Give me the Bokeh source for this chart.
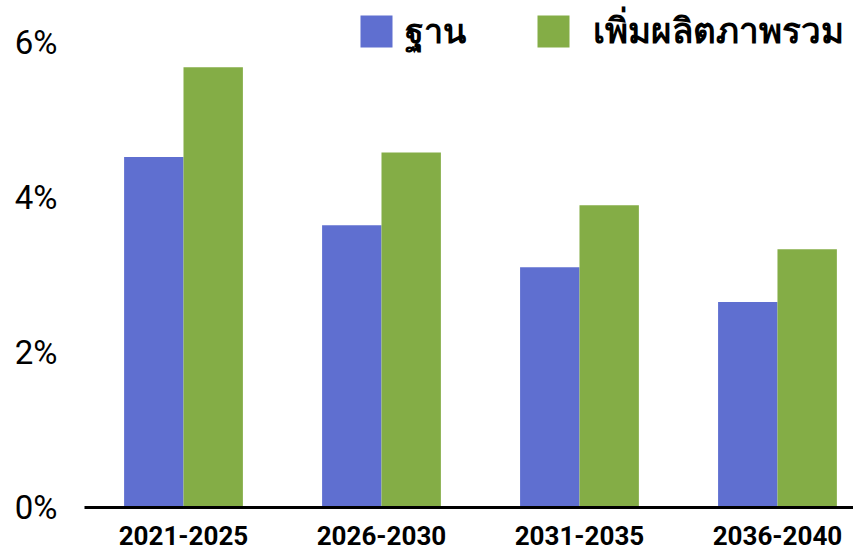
from bokeh.plotting import figure
from bokeh.models import ColumnDataSource, Range1d, FixedTicker, PrintfTickFormatter, Legend, LegendItem
from bokeh.transform import dodge
from bokeh.embed import file_html
from bokeh.resources import INLINE

categories = ["2021-2025", "2026-2030", "2031-2035", "2036-2040"]
base = [4.52, 3.64, 3.10, 2.65]
productivity = [5.68, 4.58, 3.90, 3.33]
series_names = ["ฐาน", "เพิ่มผลิตภาพรวม"]
y_ticks = [0, 2, 4, 6]

xpos = [i + 0.5 for i in range(len(categories))]
src = ColumnDataSource(dict(x=xpos, base=base, prod=productivity))

p = figure(width=853, height=550, output_backend="svg", toolbar_location=None,
           x_range=Range1d(0, 3.884), y_range=Range1d(0, 6.54),
           min_border_left=84, min_border_right=0, min_border_top=0, min_border_bottom=43)
p.outline_line_color = None
p.grid.visible = False

r1 = p.vbar(x=dodge("x", -0.15), top="base", width=0.3, source=src,
            fill_color="#5F6FD0", line_color=None)
r2 = p.vbar(x=dodge("x", 0.15), top="prod", width=0.3, source=src,
            fill_color="#84AD46", line_color=None)

xa = p.xaxis[0]
xa.ticker = FixedTicker(ticks=xpos)
xa.major_label_overrides = {x: c for x, c in zip(xpos, categories)}
xa.axis_line_width = 3
xa.axis_line_color = "black"
xa.major_tick_line_color = None
xa.minor_tick_line_color = None
xa.major_label_standoff = 12
xa.major_label_text_font = "Roboto"
xa.major_label_text_font_style = "bold"
xa.major_label_text_font_size = "26px"
xa.major_label_text_color = "black"

ya = p.yaxis[0]
ya.ticker = FixedTicker(ticks=y_ticks)
ya.formatter = PrintfTickFormatter(format="%d%%")
ya.axis_line_color = None
ya.major_tick_line_color = None
ya.minor_tick_line_color = None
ya.major_label_standoff = 21
ya.major_label_text_font = "Roboto"
ya.major_label_text_font_size = "33px"
ya.major_label_text_color = "black"


def make_legend(label, renderer, loc, standoff, size):
    lg = Legend(items=[LegendItem(label=label, renderers=[renderer])], location=loc)
    lg.glyph_width = 40
    lg.glyph_height = 40
    lg.label_standoff = standoff
    lg.margin = 0
    lg.padding = 0
    lg.border_line_color = None
    lg.background_fill_alpha = 0
    lg.label_text_font = "Noto Sans"
    lg.label_text_font_style = "bold"
    lg.label_text_font_size = size
    lg.label_text_color = "black"
    return lg


p.add_layout(make_legend(series_names[0], r1, (272, 449), 9, "34px"))
p.add_layout(make_legend(series_names[1], r2, (449, 449), 20, "35px"))

open("out.html", "w").write(file_html(p, INLINE))
